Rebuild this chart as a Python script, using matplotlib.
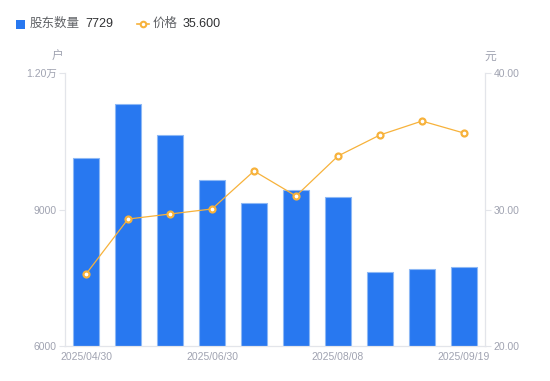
import numpy as np
import matplotlib
matplotlib.use("Agg")
import matplotlib.pyplot as plt
from matplotlib.lines import Line2D
from matplotlib.patches import Rectangle

plt.rcParams['font.family'] = ['Liberation Sans', 'Noto Sans CJK SC', 'DejaVu Sans']

# Data
dates = ["2025/04/30", "2025/05/20", "2025/06/10", "2025/06/30", "2025/07/10",
         "2025/07/20", "2025/08/08", "2025/08/20", "2025/08/29", "2025/09/19"]
holders = [10130, 11320, 10640, 9650, 9140, 9430, 9280, 7630, 7690, 7729]
price = [25.27, 29.30, 29.67, 30.04, 32.82, 30.99, 33.92, 35.46, 36.48, 35.60]
shown_ticks = [0, 3, 6, 9]

bar_color = "#2878f0"
bar_edge = "#8db8f5"
line_color = "#f7b23b"
tick_color = "#a0a3b1"
spine_color = "#e3e5ea"

fig = plt.figure(figsize=(5.5, 3.81), dpi=100)
ax = fig.add_axes([65/550, 35/381, 420/550, 273/381])
ax2 = ax.twinx()

x = np.arange(len(dates))
ax.bar(x, holders, width=0.6, bottom=0, color=bar_color, edgecolor=bar_edge,
       linewidth=0.8, zorder=2)
ax.set_xlim(-0.5, len(dates) - 0.5)
ax.set_ylim(6000, 12000)
ax.set_yticks([6000, 9000, 12000])
ax.set_yticklabels(["6000", "9000", "1.20万"])

ax2.plot(x, price, color=line_color, linewidth=0.9, marker="o", markersize=4.3,
         markerfacecolor="white", markeredgecolor=line_color, markeredgewidth=1.6,
         zorder=3)
ax2.set_ylim(20, 40)
ax2.set_yticks([20, 30, 40])
ax2.set_yticklabels(["20.00", "30.00", "40.00"])

ax.set_xticks(shown_ticks)
ax.set_xticklabels([dates[i] for i in shown_ticks])

for a in (ax, ax2):
    for s in a.spines.values():
        s.set_color(spine_color)
        s.set_linewidth(0.8)
    a.spines['top'].set_visible(False)
    a.tick_params(axis='both', colors=spine_color, labelcolor=tick_color,
                  labelsize=7.5, length=4, width=0.8, pad=2)
ax.tick_params(axis='x', length=0, pad=4)

# Units
fig.text(58/550, 1 - 57/381, "户", fontsize=8.5, color=tick_color, ha="center", va="center")
fig.text(490/550, 1 - 57/381, "元", fontsize=8.5, color=tick_color, ha="center", va="center")

# Legend
fig.patches.append(Rectangle((16/550, 1 - 29/381), 9/550, 9/381, transform=fig.transFigure,
                             facecolor=bar_color, edgecolor="none"))
fig.text(30/550, 1 - 24/381, "股东数量", fontsize=9, color="#606266", va="center")
fig.text(85/550, 1 - 24/381, f"{holders[-1]}", fontsize=9, color="#303133", va="center")
fig.lines.append(Line2D([137/550, 143/550, 149/550], [1 - 24/381] * 3, transform=fig.transFigure,
                        color=line_color, linewidth=1.2, marker="o", markersize=4,
                        markevery=[1], markerfacecolor="white", markeredgecolor=line_color,
                        markeredgewidth=1.5))
fig.text(153/550, 1 - 24/381, "价格", fontsize=9, color="#606266", va="center")
fig.text(183/550, 1 - 24/381, f"{price[-1]:.3f}", fontsize=9, color="#303133", va="center")

fig.savefig("out.png", dpi=100)
